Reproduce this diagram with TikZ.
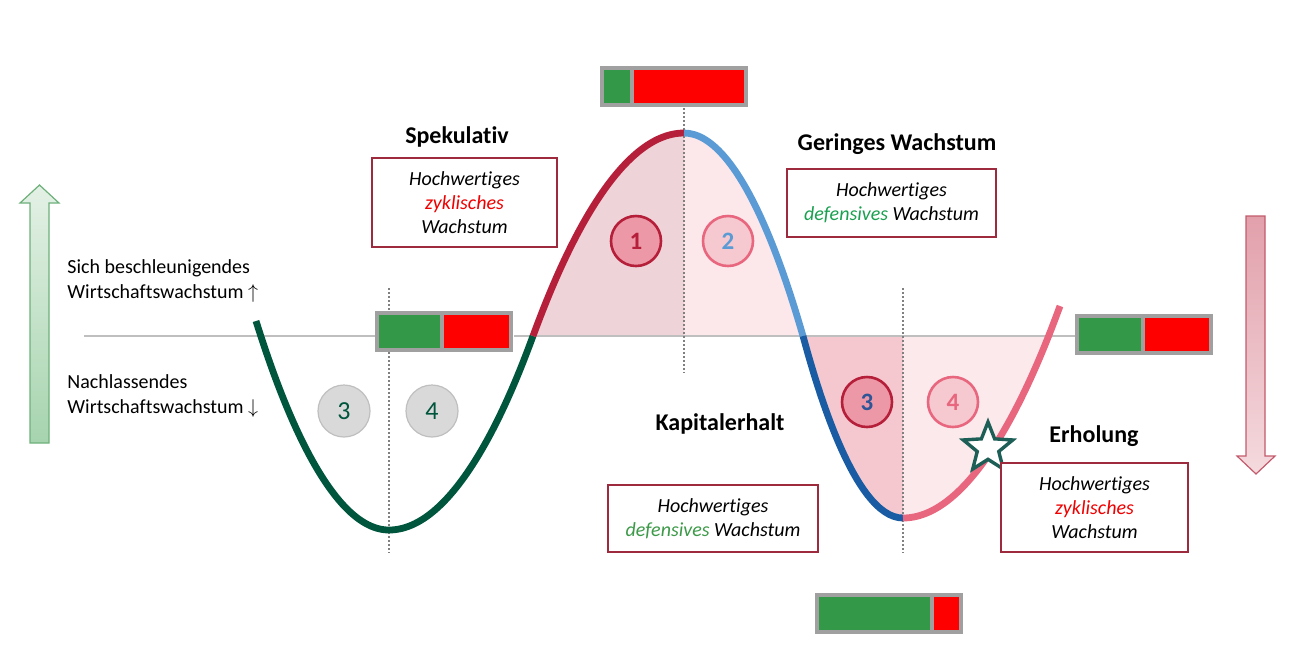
\documentclass[tikz,border=0pt]{standalone}
\usepackage{fontspec}
\setmainfont{Carlito}[Ligatures=NoCommon]
\usepackage{tikz}
\usetikzlibrary{shapes.geometric}
\definecolor{cycGreen}{HTML}{00553D}
\definecolor{cycRed}{HTML}{B51F3A}
\definecolor{cycLightBlue}{HTML}{5B9BD5}
\definecolor{cycDarkBlue}{HTML}{1A5CA4}
\definecolor{cycPink}{HTML}{E8677F}
\definecolor{fillA}{HTML}{EED3D8}
\definecolor{fillB}{HTML}{FCE7EA}
\definecolor{fillC}{HTML}{F5C8CF}
\definecolor{fillD}{HTML}{FBE9EC}
\definecolor{axisGray}{HTML}{BFBFBF}
\definecolor{guideGray}{HTML}{808080}
\definecolor{frameGray}{HTML}{A0A0A0}
\definecolor{barGreen}{HTML}{339948}
\definecolor{barRed}{HTML}{FF0000}
\definecolor{boxRed}{HTML}{9E2A3E}
\definecolor{zyk}{HTML}{F00000}
\definecolor{defA}{HTML}{1AA050}
\definecolor{defB}{HTML}{3C9A48}
\definecolor{pastFill}{HTML}{D9D9D9}
\definecolor{pastLine}{HTML}{BFBFBF}
\definecolor{darkFill}{HTML}{EC98A6}
\definecolor{lightFill}{HTML}{F5C9CF}
\definecolor{numBlue}{HTML}{2E5597}
\definecolor{starTeal}{HTML}{1D5E56}
\definecolor{upLine}{HTML}{6DB07A}
\definecolor{upTop}{HTML}{E4F1E6}
\definecolor{upBottom}{HTML}{A6D4AE}
\definecolor{downLine}{HTML}{C35A6C}
\definecolor{downTop}{HTML}{E2A0AB}
\definecolor{downBottom}{HTML}{F4DADE}
\newcommand\ratiobar[5]{
  \node[barframe, minimum width=#4*0.5pt, anchor=north west] (#1) at (#2,#3) {};
  \fill[barGreen] (#2+4,#3+4) rectangle (#2+#5-2,#3+37);
  \fill[barRed] (#2+#5+2,#3+4) rectangle (#2+#4-4,#3+37);
}

\begin{document}
\begin{tikzpicture}[x=0.5pt, y=-0.5pt,
  wave/.style={line width=3.4pt},
  guide/.style={draw=guideGray, line width=0.8pt, dash pattern=on 1pt off 1pt},
  zeroline/.style={draw=axisGray, line width=1.4pt},
  barframe/.style={rectangle, fill=frameGray, minimum height=20.5pt, inner sep=0pt},
  phasetitle/.style={font=\bfseries\fontsize{12}{14}\selectfont},
  info/.style={draw=boxRed, line width=0.9pt, fill=white, align=center, inner sep=0pt, font=\itshape\fontsize{10}{12}\selectfont},
  side/.style={anchor=west, align=left, inner sep=0pt, font=\fontsize{10}{12.5}\selectfont},
  phase/.style={circle, minimum size=25pt, inner sep=0pt, line width=1.3pt, font=\bfseries\fontsize{12.5}{14}\selectfont},
  past/.style={circle, minimum size=26pt, inner sep=0pt, fill=pastFill, draw=pastLine, line width=0.6pt, text=cycGreen, font=\fontsize{13}{15}\selectfont}]
	\useasboundingbox (0,0) rectangle (1312,645);
	\coordinate (zero) at (84,336);
	\coordinate (peak) at (684,133);
	\fill[fillA] (533,336) parabola[bend at end] (peak) -- (684,336) -- cycle;
	\fill[fillB] (peak) parabola[bend at start] (803,336) -- (684,336) -- cycle;
	\fill[fillC] (803,336) parabola[bend at end] (903,518) -- (903,336) -- cycle;
	\fill[fillD] (903,518) parabola[bend at start] (1049,336) -- (903,336) -- cycle;
	\ratiobar{barL}{375}{311}{138}{67}
	\ratiobar{barT}{600}{66}{148}{32}
	\ratiobar{barR}{1075}{314}{138}{68}
	\ratiobar{barB}{815}{593}{148}{117}
	\draw[zeroline] (zero) -- (zero -| barL.west);
	\draw[zeroline] (zero -| barL.east) -- (zero -| barR.west);
	\draw[guide] (389,288) -- (389,311);
	\draw[guide] (389,352) -- (389,553);
	\draw[guide] (peak |- barT.south) -- (684,372);
	\draw[guide] (903,288) -- (903,553);
	\draw[wave, cycGreen] (256,321) parabola[bend at end] (389,530) parabola[bend at start] (533,336);
	\draw[wave, cycRed] (533,336) parabola[bend at end] (peak);
	\draw[wave, cycLightBlue] (peak) parabola[bend at start] (803,336);
	\draw[wave, cycDarkBlue] (803,336) parabola[bend at end] (903,518);
	\draw[wave, cycPink] (903,518) parabola[bend at start] (1060,306);
	\node[phase, fill=darkFill, draw=cycRed, text=cycRed] (p1) at (636,241) {1};
	\node[phase, fill=lightFill, draw=cycPink, text=cycLightBlue] (p2) at (728,241) {2};
	\node[phase, fill=darkFill, draw=cycRed, text=numBlue] (p3) at (867,402) {3};
	\node[phase, fill=lightFill, draw=cycPink, text=cycPink] (p4) at (953,402) {4};
	\node[past] (q3) at (344,411) {3};
	\node[past] (q4) at (432,411) {4};
	\node[star, star points=5, star point ratio=2.3, draw=starTeal, fill=white, line width=1.7pt, minimum size=26pt, inner sep=0pt] (mark) at (988,448) {};
	\node[phasetitle] (tSpek) at (457,137) {Spekulativ};
	\node[phasetitle] (tGer) at (897,144) {Geringes Wachstum};
	\node[phasetitle] (tKap) at (720,424) {Kapitalerhalt};
	\node[phasetitle] (tErh) at (1094,436) {Erholung};
	\node[info, minimum width=92.5pt, minimum height=44.5pt] (bSpek) at (464.5,202.5) {Hochwertiges\\\textcolor{zyk}{zyklisches}\\Wachstum};
	\node[info, minimum width=104.5pt, minimum height=34pt] (bGer) at (891.5,203) {Hochwertiges\\\textcolor{defA}{defensives} Wachstum};
	\node[info, minimum width=105pt, minimum height=33.5pt] (bKap) at (713,518.5) {Hochwertiges\\\textcolor{defB}{defensives} Wachstum};
	\node[info, minimum width=93.5pt, minimum height=44.5pt] (bErh) at (1094.5,507.5) {Hochwertiges\\\textcolor{zyk}{zyklisches}\\Wachstum};
	\node[side] (up) at (67,280.5) {Sich beschleunigendes\\Wirtschaftswachstum $\uparrow$};
	\node[side] (down) at (67,395.5) {Nachlassendes\\Wirtschaftswachstum $\downarrow$};
	\draw[line width=0.6pt, draw=upLine, top color=upTop, bottom color=upBottom] (30,443) -- (30,203) -- (20,203) -- (39.5,185) -- (59,203) -- (49,203) -- (49,443) -- cycle;
	\draw[line width=0.6pt, draw=downLine, top color=downTop, bottom color=downBottom] (1246,216) -- (1246,456) -- (1237,456) -- (1256,474) -- (1275,456) -- (1265,456) -- (1265,216) -- cycle;
\end{tikzpicture}
\end{document}
